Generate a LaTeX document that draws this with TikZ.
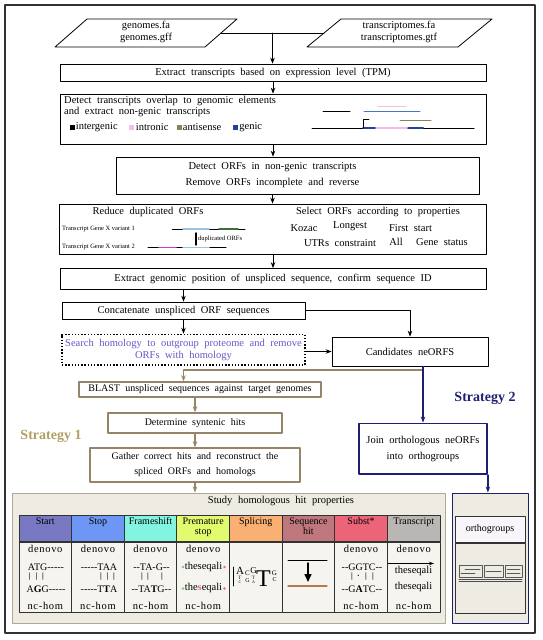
\documentclass[tikz,border=0pt]{standalone}
\usepackage{fontspec}
\setmainfont{Liberation Serif}[WordSpace=2.1,Ligatures=TeXOff]
\newfontfamily\spacedfont{Liberation Serif}[WordSpace=2.1,Ligatures=TeXOff,LetterSpace=6.5]
\newfontfamily\plainfont{Liberation Serif}[Ligatures=TeX,WordSpace=1.0]
\usetikzlibrary{arrows.meta}
\newcommand\szmain{\fontsize{10.5}{12}\selectfont}
\newcommand\szsmall{\fontsize{10}{12}\selectfont}
\newcommand\sztiny{\plainfont\fontsize{6.5}{7}\selectfont}
\newcommand\szstrat{\plainfont\fontsize{14}{16}\bfseries\selectfont}
\newcommand\spaced{\spacedfont\fontsize{10.5}{12}\selectfont}
\newcommand\logo[1]{\fontsize{#1}{#1}\selectfont}
\definecolor{framec}{RGB}{50,50,50}
\definecolor{tanc}{RGB}{150,132,105}
\definecolor{stratone}{RGB}{178,158,100}
\definecolor{navyc}{RGB}{30,30,115}
\definecolor{homolc}{RGB}{105,85,200}
\definecolor{legpink}{RGB}{242,188,235}
\definecolor{legolive}{RGB}{140,130,90}
\definecolor{legblue}{RGB}{35,65,160}
\definecolor{diagblue}{RGB}{75,115,195}
\definecolor{orfblue}{RGB}{155,195,225}
\definecolor{orfgreen}{RGB}{60,110,60}
\definecolor{orfmag}{RGB}{200,60,200}
\definecolor{hstart}{RGB}{120,120,195}
\definecolor{hstop}{RGB}{110,150,245}
\definecolor{hframe}{RGB}{130,245,225}
\definecolor{hprem}{RGB}{225,250,110}
\definecolor{hspl}{RGB}{250,175,115}
\definecolor{hseq}{RGB}{190,120,125}
\definecolor{hsub}{RGB}{235,100,120}
\definecolor{htr}{RGB}{185,182,180}
\definecolor{cellc}{RGB}{245,244,238}
\definecolor{panelc}{RGB}{238,236,226}
\definecolor{panelline}{RGB}{175,168,150}
\definecolor{tabline}{RGB}{50,50,50}
\definecolor{ohead}{RGB}{248,246,250}
\definecolor{hitbrown}{RGB}{185,120,80}
\definecolor{dotgreen}{RGB}{120,200,120}
\definecolor{dotpink}{RGB}{230,110,140}
\begin{document}
\begin{tikzpicture}[x=1pt, y=-1pt, font=\szmain, line cap=round, line join=round, >={Stealth[length=6pt,width=4.5pt]},
  proc/.style={draw, line width=0.7pt, inner sep=0pt},
  tanbox/.style={draw=tanc, line width=1.4pt, inner sep=0pt, font=\szsmall},
  arr/.style={->, line width=0.8pt},
  tanarr/.style={->, draw=tanc, line width=1.2pt},
  navyarr/.style={->, draw=navyc, line width=1.2pt},
  hdtext/.style={anchor=north, align=center, inner sep=0pt, font=\szsmall},
  seq/.style={inner sep=0pt, font=\szsmall},
  seqbar/.style={inner sep=0pt, font=\fontsize{8}{8}\bfseries\selectfont},
  tinytxt/.style={anchor=west, inner sep=0pt, font=\sztiny},
  leg/.style={minimum size=5pt, inner sep=0pt},
  lbl/.style={inner sep=0pt}]
\useasboundingbox (0,0) rectangle (542,640);
\draw[line width=2pt, draw=framec] (5,5) rectangle (535,633);

% input files
\draw[line width=0.8pt] (55,47) -- (87,19) -- (237,19) -- (205,47) -- cycle;
\draw[line width=0.8pt] (307,47) -- (341,19) -- (492,19) -- (458,47) -- cycle;
\node[lbl, align=center] (genomes) at (146,32) {genomes.fa\\genomes.gff};
\node[lbl, align=center] (transcr) at (399,32) {transcriptomes.fa\\transcriptomes.gtf};
\coordinate (genR) at (221,33);
\coordinate (trL) at (324,33);
\coordinate (inJ) at (272.5,33);

% main pipeline
\node[proc, minimum width=426pt, minimum height=17pt] (extract) at (273,72.5) {Extract transcripts based on expression level (TPM)};
\node[proc, minimum width=426pt, minimum height=50pt] (overlap) at (273,119) {};
\node[lbl, anchor=west] (ovlA) at (64,100.5) {Detect transcripts overlap to genomic elements};
\node[lbl, anchor=west] (ovlB) at (64,111.5) {and extract non-genic transcripts};
\node[leg, fill=black] (lgA) at (72,127) {};
\node[lbl, anchor=west] at ([xshift=1pt]lgA.east) {intergenic};
\node[leg, fill=legpink] (lgB) at (131,127) {};
\node[lbl, anchor=west] at ([xshift=2pt]lgB.east) {intronic};
\node[leg, fill=legolive] (lgC) at (179,127) {};
\node[lbl, anchor=west] at ([xshift=1pt]lgC.east) {antisense};
\node[leg, fill=legblue] (lgD) at (235,127) {};
\node[lbl, anchor=west] at ([xshift=1.5pt]lgD.east) {genic};
\draw[line width=1pt] (312,128) -- (474,128);
\draw[line width=2pt, legblue] (363,128) -- (376,128) (407,128) -- (423,128);
\draw[line width=2pt, legpink] (376,128) -- (407,128);
\draw[line width=1pt] (323,111) -- (350,111);
\draw[line width=1pt, diagblue] (364,111) -- (420,111);
\draw[line width=1pt, legpink] (378,106.5) -- (406,106.5);
\draw[line width=1pt, legolive] (400,120) -- (431,120);
\draw[line width=0.8pt] (363,128) -- (363,119) -- (369,119);

\node[proc, minimum width=363pt, minimum height=37pt] (orfs) at (297.5,175.5) {};
\node[lbl, align=center] (orfsT) at (272.5,175) {Detect ORFs in non-genic transcripts\\[4.4pt]Remove ORFs incomplete and reverse};

\node[proc, minimum width=427pt, minimum height=50pt] (dedup) at (272.5,229) {};
\node[lbl] (dedupT) at (148,212) {Reduce duplicated ORFs};
\node[tinytxt] (varA) at (62,229) {Transcript Gene X variant 1};
\node[tinytxt] (varB) at (62,247.5) {Transcript Gene X variant 2};
\draw[line width=1pt] (172.5,229) -- (245,229);
\draw[line width=1.6pt, orfblue] (183,229) -- (209,229);
\draw[line width=1.6pt, orfgreen] (219,229) -- (238,229);
\draw[line width=1pt] (148,247.5) -- (226,247.5);
\draw[line width=1.6pt, orfmag] (159,247.5) -- (176,247.5);
\draw[line width=1.6pt, orfblue] (183,247.5) -- (209,247.5);
\draw[line width=1.4pt] (196,233) -- (196,245);
\node[tinytxt] (dupT) at (198,239) {duplicated ORFs};
\node[lbl] (selT) at (378,212) {Select ORFs according to properties};
\node[lbl] at (304,228) {Kozac};
\node[lbl] at (350,226) {Longest};
\node[lbl] at (410.5,228.5) {First start};
\node[lbl] at (340,243) {UTRs constraint};
\node[lbl] at (396,241.6) {All};
\node[lbl] at (442,241.6) {Gene status};

\node[proc, minimum width=426pt, minimum height=20.5pt] (genpos) at (273,278.75) {Extract genomic position of unspliced sequence, confirm sequence ID};
\node[proc, minimum width=243pt, minimum height=17pt] (concat) at (183.5,310.5) {Concatenate unspliced ORF sequences};
\node[draw, line width=1.6pt, line cap=butt, dash pattern=on 1.4pt off 1.8pt, inner sep=0pt, minimum width=243pt, minimum height=30.5pt, align=center, text=homolc] (homol) at (183.5,349.75) {Search homology to outgroup proteome and remove\\ORFs with homology};
\node[proc, minimum width=156pt, minimum height=29pt] (cand) at (410,351.5) {Candidates neORFS};

% strategy 1
\node[tanbox, minimum width=242pt, minimum height=15pt] (blast) at (200,389.5) {BLAST unspliced sequences against target genomes};
\node[tanbox, minimum width=174pt, minimum height=20pt] (synt) at (195,423) {Determine syntenic hits};
\node[tanbox, minimum width=210pt, minimum height=34pt, align=center] (gather) at (195,465) {Gather correct hits and reconstruct the\\[3pt]spliced ORFs and homologs};
\node[lbl, font=\szstrat, text=stratone] (stratA) at (51,436) {Strategy 1};

% strategy 2
\node[lbl, font=\szstrat, text=navyc] (stratB) at (485,398) {Strategy 2};
\node[draw=navyc, line width=1.8pt, inner sep=0pt, minimum width=128pt, minimum height=50.5pt, align=center] (join) at (423,448.75) {Join orthologous neORFs\\[4pt]into orthogroups};

% connectors
\draw[line width=0.8pt] (genR) -- (trL);
\draw[arr] (inJ) -- (inJ |- extract.north);
\draw[arr] (extract.south) -- (extract.south |- overlap.north);
\draw[arr] (overlap.south) -- (overlap.south |- orfs.north);
\draw[arr] (orfs.south -| dedup.north) -- (dedup.north);
\draw[arr] (dedup.south -| genpos.north) -- (genpos.north);
\draw[arr] (genpos.south -| concat.north) -- (concat.north);
\draw[arr] (concat.south) -- (homol.north);
\draw[arr] (concat.east) -| (cand.north);
\draw[arr] (homol.east |- cand.west) -- (cand.west);
\coordinate (tanTurn) at (183.5,370);
\draw[tanarr] (cand.south -| join.north) |- (tanTurn) -- (tanTurn |- blast.north);
\draw[tanarr] (synt.north |- blast.south) -- (synt.north);
\draw[tanarr] (synt.south) -- (gather.north);
\draw[navyarr] (cand.south -| join.north) -- (join.north);

% study panel
\node[draw=panelline, fill=panelc, line width=1pt, minimum width=433pt, minimum height=130pt] (study) at (228.5,558) {};
\node[lbl] (studyT) at (281,500.5) {Study homologous hit properties};
\draw[tanarr] (gather.south) -- (gather.south |- study.north);
\foreach \i/\hc/\htxt in {1/hstart/Start, 2/hstop/Stop, 3/hframe/Frameshift, 4/hprem/{Premature\\[-1.5pt]stop}, 5/hspl/Splicing, 6/hseq/{Sequence\\[-2pt]hit}, 7/hsub/Subst*, 8/htr/Transcript}{
  \node[draw=tabline, fill=\hc, line width=1pt, minimum width=52.625pt, minimum height=26.7pt, inner sep=0pt] (h\i) at (19+52.625*\i-26.3125,528.35) {};
  \node[hdtext] at ([yshift=-3pt]h\i.north) {\htxt};
  \node[draw=tabline, fill=cellc, line width=1pt, minimum width=52.625pt, minimum height=70pt, inner sep=0pt, anchor=north] (b\i) at (h\i.south) {};
}
\foreach \i in {1,2,3,4,7,8}{
  \node[lbl, font=\spaced] at (b\i.north |- 0,549) {denovo};
  \node[lbl, font=\spaced] at (b\i.north |- 0,606) {nc-hom};
}
% start
\node[seq] at (46,567) {ATG-----};
\foreach \bx in {29.5,36.5,43} \node[seqbar] at (\bx,577) {|};
\node[seq] at (46,589) {A\textbf{G}G-----};
% stop
\node[seq] at (99,567) {-----TAA};
\foreach \bx in {101,107.5,114} \node[seqbar] at (\bx,577) {|};
\node[seq] at (99,589) {-----T\textbf{T}A};
% frameshift
\node[seq] at (151.5,567) {--TA-G--};
\foreach \bx in {142,148,162} \node[seqbar] at (\bx,577) {|};
\node[seq] at (151.5,589) {--TA\textbf{T}G--};
% premature stop
\node[lbl] at (203.5,567) {theseqali};
\node[lbl] at (203.5,588) {the{\color{dotpink}\textbf{s}}eqali};
\fill[dotgreen] (183,567) circle (1.3pt) (183,588.5) circle (1.3pt);
\fill[dotpink] (224.5,567) circle (1.3pt) (224.5,588.5) circle (1.3pt);
% splicing logo
\draw[line width=0.6pt] (233,567) -- (233,586);
\node[lbl, font=\logo{11}] at (240,571) {A};
\node[lbl, font=\logo{5}] at (240,578) {T};
\node[lbl, font=\logo{4}] at (240,582.5) {C};
\node[lbl, font=\logo{7}] at (247.5,573) {C};
\node[lbl, font=\logo{6}] at (247.5,580.5) {G};
\node[lbl, font=\logo{9}] at (253.5,571) {G};
\node[lbl, font=\logo{5}] at (253.5,578) {T};
\node[lbl, font=\logo{4}] at (253.5,582.5) {A};
\node[lbl, font=\logo{24}] at (263.5,579) {T};
\node[lbl, font=\logo{7}] at (274.5,573.5) {G};
\node[lbl, font=\logo{6}] at (274.5,580) {C};
% sequence hit
\draw[line width=1pt] (288,560) -- (327,560);
\draw[-{Triangle[length=8pt,width=7pt]}, line width=1.5pt] (308,563) -- (308,582);
\draw[line width=1.2pt, hitbrown] (288,586) -- (327,586);
% substitution
\node[seq] at (362,567) {--GGTC--};
\foreach \bx/\bs in {352/|, 358.5/\textperiodcentered, 366/|, 373/|} \node[seqbar] at (\bx,577) {\bs};
\node[seq] at (362,589) {--G\textbf{A}TC--};
% transcript
\draw[-{Stealth[length=5pt,width=3.5pt]}, line width=0.8pt] (388,563.5) -- (434,563.5);
\node[lbl] at (413.5,571) {theseqali};
\node[lbl] at (413.5,587) {theseqali};

% orthogroups panel
\node[draw=navyc, fill=panelc, line width=0.9pt, minimum width=76pt, minimum height=130pt] (orthop) at (490,558) {};
\draw[navyarr] (join.south east) -- (join.south east |- orthop.north);
\node[draw=tabline, fill=ohead, line width=1pt, minimum width=70pt, minimum height=26pt, inner sep=0pt, font=\szsmall] (orthoH) at (490,529) {orthogroups};
\node[draw=tabline, fill=panelc, line width=1pt, minimum width=70pt, minimum height=70pt, inner sep=0pt, anchor=north] (orthoB) at (orthoH.south) {};
\draw[line width=0.6pt, black!65] (459,565) rectangle (482,577) (484,565) rectangle (503,577) (505,565) rectangle (522,577);
\draw[line width=0.7pt, black!65] (465,569.5) -- (480,569.5) (461,573.5) -- (475,573.5) (486,571) -- (501,571) (507,569.5) -- (520,569.5) (507,573.5) -- (520,573.5);
\draw[line width=0.8pt, black!70] (459,579.5) -- (522,579.5) (459,581.8) -- (522,581.8);
\end{tikzpicture}
\end{document}
